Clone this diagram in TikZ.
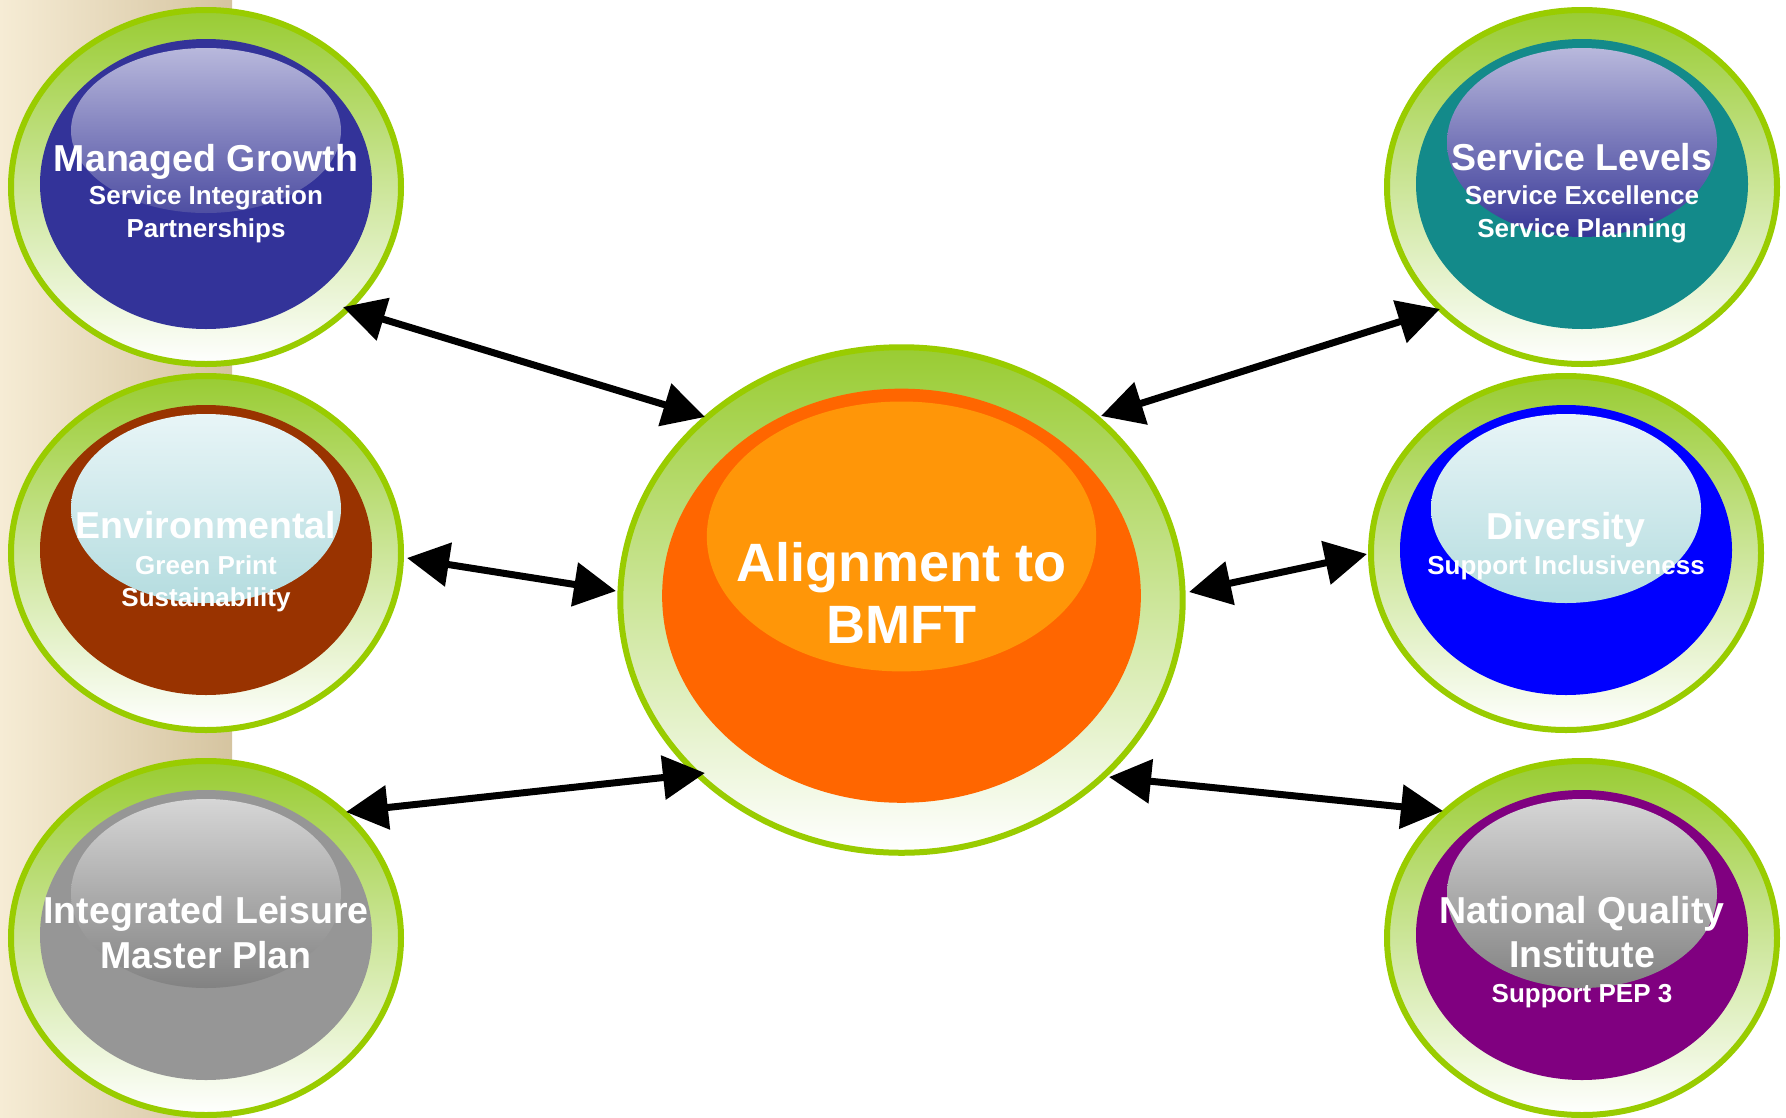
\documentclass[tikz,border=0pt]{standalone}
\usepackage{fontspec}
\setmainfont{Liberation Sans}
\usetikzlibrary{arrows.meta}
\definecolor{ringtop}{HTML}{99CC33}
\definecolor{ringmid}{HTML}{C8E2A6}
\definecolor{ringline}{HTML}{99CC00}
\definecolor{bgL}{HTML}{F6ECD5}
\definecolor{bgM}{HTML}{F0E4C9}
\definecolor{bgR}{HTML}{D5C4A0}
\definecolor{mgblue}{HTML}{333399}
\definecolor{envbrown}{HTML}{993300}
\definecolor{ilgrey}{HTML}{969696}
\definecolor{slteal}{HTML}{138A8A}
\definecolor{divblue}{HTML}{0000FF}
\definecolor{nqpurple}{HTML}{800080}
\definecolor{corange}{HTML}{FF6600}
\definecolor{chl}{HTML}{FF9608}
\definecolor{lavT}{HTML}{B8B8DC}
\definecolor{lavB}{HTML}{4E4EA2}
\definecolor{lavB2}{HTML}{363696}
\definecolor{cyT}{HTML}{E8F5F7}
\definecolor{cyB}{HTML}{B4DCDF}
\definecolor{grT}{HTML}{D6D6D6}
\definecolor{grB}{HTML}{828282}
\tikzset{
  arr/.style={line width=7pt, {Triangle[length=42pt,width=43pt]}-{Triangle[length=42pt,width=43pt]}},
  ttl/.style={text=white, font=\fontsize{37.5}{45}\selectfont\bfseries, anchor=base, inner sep=0pt},
  sub/.style={text=white, font=\fontsize{26}{31}\selectfont\bfseries, anchor=base, inner sep=0pt},
  big/.style={text=white, font=\fontsize{54}{62}\selectfont\bfseries, anchor=base, inner sep=0pt}
}
% #1 cx, #2 cy, #3 sx, #4 sy, #5 inner colour, #6 hl top, #7 hl bottom, #8 hl bottom offset
\newcommand\mybubble[8]{%
  \begin{scope}[shift={(#1,#2)}]
    \shade[top color=ringtop, middle color=ringmid, bottom color=white, draw=ringline, line width=6pt]
      (0,0) ellipse [x radius={#3*195pt}, y radius={#4*177pt}];
    \fill[#5] (0,{-3*#4}) ellipse [x radius={#3*166pt}, y radius={#4*145pt}];
    \shade[top color=#6, bottom color=#7]
      (0,{#4*(#8-139)/2}) ellipse [x radius={#3*135pt}, y radius={#4*(#8+139)/2*1pt}];
  \end{scope}}
\begin{document}
\begin{tikzpicture}[x=1pt,y=-1pt]
\useasboundingbox (0,0) rectangle (1786,1117);
\fill[white] (0,0) rectangle (1786,1117);
\shade[left color=bgL, middle color=bgM, right color=bgR] (0,0) rectangle (232,1117);

\mybubble{206}{187}{1}{1}{mgblue}{lavT}{lavB}{26}
\mybubble{206}{553}{1}{1}{envbrown}{cyT}{cyB}{50}
\mybubble{206}{938}{1}{1}{ilgrey}{grT}{grB}{50}
\mybubble{1582}{187}{1}{1}{slteal}{lavT}{lavB2}{50}
\mybubble{1566}{553}{1}{1}{divblue}{cyT}{cyB}{50}
\mybubble{1582}{938}{1}{1}{nqpurple}{grT}{grB}{50}
\mybubble{901.5}{600}{1.442}{1.428}{corange}{chl}{chl}{50}

% texts
\node[ttl] (mg1) at (206,171) {Managed Growth};
\node[sub] (mg2) at (206,204) {Service Integration};
\node[sub] (mg3) at (206,237) {Partnerships};

\node[ttl] (en1) at (206,538) {Environmental};
\node[sub] (en2) at (206,574) {Green Print};
\node[sub] (en3) at (206,606) {Sustainability};

\node[ttl] (il1) at (206,923) {Integrated Leisure};
\node[ttl] (il2) at (206,968) {Master Plan};

\node[ttl] (sl1) at (1582,170) {Service Levels};
\node[sub] (sl2) at (1582,204) {Service Excellence};
\node[sub] (sl3) at (1582,237) {Service Planning};

\node[ttl] (dv1) at (1566,539) {Diversity};
\node[sub] (dv2) at (1566,574) {Support Inclusiveness};

\node[ttl] (nq1) at (1582,923) {National Quality};
\node[ttl] (nq2) at (1582,967) {Institute};
\node[sub] (nq3) at (1582,1002) {Support PEP 3};

\node[big] (c1) at (901.5,581) {Alignment to};
\node[big] (c2) at (901.5,643) {BMFT};

% connector ends
\coordinate (mgA) at (343,307);  \coordinate (cA) at (705,417);
\coordinate (enA) at (407,558);  \coordinate (cB) at (616,591);
\coordinate (ilA) at (346,812);  \coordinate (cC) at (705,773);
\coordinate (slA) at (1440,309); \coordinate (cD) at (1101,416);
\coordinate (dvA) at (1367,554); \coordinate (cE) at (1189,592);
\coordinate (nqA) at (1443,811); \coordinate (cF) at (1109,777);

\draw[arr] (mgA) -- (cA);
\draw[arr] (enA) -- (cB);
\draw[arr] (ilA) -- (cC);
\draw[arr] (slA) -- (cD);
\draw[arr] (dvA) -- (cE);
\draw[arr] (nqA) -- (cF);
\end{tikzpicture}
\end{document}
